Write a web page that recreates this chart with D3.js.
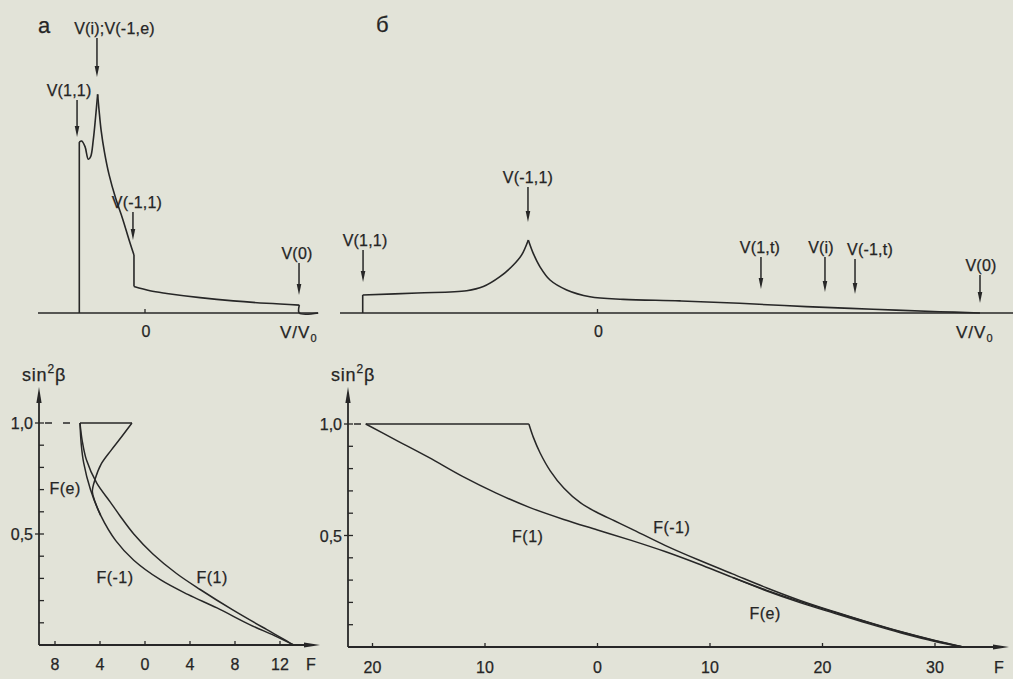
<!DOCTYPE html>
<html><head><meta charset="utf-8">
<script src="https://cdn.jsdelivr.net/npm/d3@7"></script>
<style>
html,body{margin:0;padding:0;background:#e2e3d8;}
svg{display:block;}
text{font-family:"Liberation Sans",Arial,sans-serif;fill:#252525;stroke:#252525;stroke-width:0.25px;}
</style></head><body>
<svg id="c" width="1013" height="679"></svg>
<script>
// ================= DATA =================
// Spectra (pieces of [V/V0, intensity]) — panel а and б
const spectrumA = [
  [[-5.84,0],[-5.84,0.777]],
  [[-5.84,0.777],[-5.63,0.782],[-5.33,0.756],[-5.04,0.699],[-4.83,0.711],[-4.6,0.786],[-4.39,0.892],[-4.21,0.994]],
  [[-4.21,0.994],[-4.08,0.92],[-3.9,0.83],[-3.6,0.73],[-3.2,0.63],[-2.6,0.52],[-2.0,0.43],[-1.4,0.33],[-0.98,0.264]],
  [[-0.98,0.264],[-0.98,0.12]],
  [[-0.98,0.12],[0.44,0.101],[1.93,0.089],[4.89,0.07],[7.85,0.055],[10.8,0.044],[13.72,0.036]],
  [[13.72,0.036],[13.72,0],[15.4,0]]
];
const spectrumB = [
  [[-20.87,0],[-20.87,0.082]],
  [[-20.87,0.082],[-16,0.091],[-11.63,0.101],[-10.15,0.12],[-8.67,0.165],[-7.48,0.218],[-6.74,0.264],[-6.15,0.332]],
  [[-6.15,0.332],[-5.71,0.271],[-5.11,0.21],[-4.22,0.15],[-2.74,0.105],[-0.67,0.074],[2.29,0.062],[7.33,0.055],[12.64,0.044],[18.56,0.029],[24.49,0.017],[30.42,0.006],[34.0,0]]
];
// Arrow annotations: [label, V/V0, tip intensity, tail intensity]
const peaksA = [
  ["V(1,1)", -6.04, 0.80, 0.968],
  ["V(i);V(-1,e)", -4.27, 1.073, 1.25],
  ["V(-1,1)", -1.07, 0.332, 0.459],
  ["V(0)", 13.69, 0.082, 0.227]
];
const peaksB = [
  ["V(1,1)", -20.84, 0.141, 0.286],
  ["V(-1,1)", -6.18, 0.414, 0.573],
  ["V(1,t)", 14.53, 0.109, 0.255],
  ["V(i)", 20.22, 0.095, 0.255],
  ["V(-1,t)", 22.89, 0.086, 0.245],
  ["V(0)", 34.0, 0.045, 0.173]
];
// F(sin²β) curves: [F, sin²β]
const fMinus1A = [[-5.78,1.0],[-5.66,0.9],[-5.45,0.82],[-4.85,0.7],[-3.95,0.585],[-2.6,0.47],[-1.0,0.382],[1.4,0.293],[3.8,0.228],[6.4,0.167],[9.3,0.092],[11.5,0.042],[13.2,0]];
const fPlus1A  = [[-5.78,1.0],[-5.58,0.92],[-5.2,0.833],[-4.3,0.73],[-3.1,0.645],[-2.2,0.58],[-1.0,0.5],[0.7,0.41],[2.8,0.322],[4.9,0.25],[7.8,0.158],[10.8,0.07],[12.2,0.03],[13.2,0]];
const fEA      = [[-1.16,1.0],[-2.2,0.93],[-3.0,0.878],[-3.9,0.815],[-4.45,0.745],[-4.68,0.69],[-4.4,0.64],[-3.95,0.585]];
const topA     = [[-5.78,1.0],[-1.16,1.0]];
const fPlus1B  = [[-20.6,1.0],[-18,0.93],[-15,0.85],[-12,0.765],[-9,0.69],[-6,0.625],[-3,0.572],[0,0.525],[3,0.478],[6,0.428],[9,0.372],[12,0.312],[15,0.255],[18,0.204],[21,0.157],[24,0.111],[27,0.067],[30,0.028],[32.5,0]];
const fMinus1B = [[-6.1,1.0],[-5.7,0.94],[-5.1,0.87],[-4.2,0.79],[-3.0,0.713],[-1.5,0.646],[0,0.602],[1.5,0.566],[3,0.53],[6,0.456],[9,0.39],[12,0.328],[15,0.266],[18,0.209],[21,0.159],[24,0.112],[27,0.068],[30,0.029],[32.5,0]];
const fEB      = [[12,0.312],[15,0.252],[18,0.199],[21,0.152],[24,0.106],[27,0.063],[30,0.025],[32.5,0]];
const topB     = [[-20.6,1.0],[-6.1,1.0]];
// tick values / labels
const fTicksA = [-8,-4,0,4,8,12];
const fTicksB = [-20,-10,0,10,20,30];
const sinMinor = [0.1,0.2,0.3,0.4,0.5,0.6,0.7,0.8,0.9,1.0];
const sinMajor = [0.5,1.0];
const sinLabels = ["0,5","1,0"];
const curveLabelsA = [["F(e)",-7.1,0.707],["F(-1)",-2.67,0.306],["F(1)",5.96,0.306]];
const curveLabelsB = [["F(1)",-6.2,0.5],["F(-1)",6.6,0.54],["F(e)",14.9,0.152]];

// ================= LAYOUT =================
const ink = "#272727";
const svg = d3.select("#c");
const xA = d3.scaleLinear().domain([0,4]).range([145,190]);
const xB = d3.scaleLinear().domain([0,10]).range([597.5,710]);
const yTop = d3.scaleLinear().domain([0,1]).range([313,93]);
const yLA = d3.scaleLinear().domain([0,1]).range([645,423]);
const yLB = d3.scaleLinear().domain([0,1]).range([647,424]);
const labelDxA = [-8, 17.5, 4, -2];
const labelDxB = [2, 0, -1, -4, 15, 1];

// ---- panel letters
svg.append("text").attr("x",38).attr("y",33).attr("font-size",22).text("а");
svg.append("text").attr("x",376).attr("y",32).attr("font-size",22).text("б");

function drawTop(x, spec, peaks, dxs, x0, x1, vvX){
  const g = svg.append("g");
  const y0 = yTop(0);
  g.append("line").attr("x1",x0).attr("x2",x1).attr("y1",y0).attr("y2",y0)
    .attr("stroke",ink).attr("stroke-width",1.7);
  g.append("line").attr("x1",x(0)).attr("x2",x(0)).attr("y1",y0).attr("y2",y0-4)
    .attr("stroke",ink).attr("stroke-width",1.3);
  g.append("text").attr("x",x(0)+1).attr("y",y0+24).attr("text-anchor","middle").attr("font-size",16).text("0");
  const vv = g.append("text").attr("x",vvX).attr("y",y0+25).attr("font-size",17).attr("letter-spacing",1);
  vv.append("tspan").text("V/V");
  vv.append("tspan").attr("font-size",11).attr("dy",4).text("0");
  const line = d3.line().x(d=>x(d[0])).y(d=>yTop(d[1])).curve(d3.curveCatmullRom.alpha(0.5));
  g.selectAll("path.sp").data(spec).join("path").attr("class","sp")
    .attr("d",line).attr("fill","none").attr("stroke",ink).attr("stroke-width",1.6)
    .attr("stroke-linejoin","round");
  peaks.forEach((p,i)=>{
    const px = x(p[1]), tip = yTop(p[2]), tail = yTop(p[3]);
    g.append("line").attr("x1",px).attr("x2",px).attr("y1",tail).attr("y2",tip-8)
      .attr("stroke",ink).attr("stroke-width",1.5);
    g.append("path").attr("d",`M${px},${tip}L${px-2.3},${tip-11}L${px+2.3},${tip-11}Z`).attr("fill",ink);
    g.append("text").attr("x",px+dxs[i]).attr("y",tail-4).attr("text-anchor","middle")
      .attr("font-size",16).attr("letter-spacing",0.2).text(p[0]);
  });
}
drawTop(xA, spectrumA, peaksA, labelDxA, 38, 318, 280);
drawTop(xB, spectrumB, peaksB, labelDxB, 340, 1013, 956);

function drawLower(x, y, axisX, xEnd, ticks, curves, topLine, labels, fX, tickLabY){
  const g = svg.append("g");
  const y0 = y(0), yTopAxis = 387;
  g.append("line").attr("x1",axisX).attr("x2",axisX).attr("y1",y0).attr("y2",yTopAxis+6)
    .attr("stroke",ink).attr("stroke-width",1.8);
  g.append("path").attr("d",`M${axisX},${yTopAxis}L${axisX-2.6},${yTopAxis+16}L${axisX+2.6},${yTopAxis+16}Z`).attr("fill",ink);
  g.append("line").attr("x1",axisX).attr("x2",xEnd-6).attr("y1",y0).attr("y2",y0)
    .attr("stroke",ink).attr("stroke-width",1.8);
  g.append("path").attr("d",`M${xEnd},${y0}L${xEnd-16},${y0-2.6}L${xEnd-16},${y0+2.6}Z`).attr("fill",ink);
  g.selectAll("line.ym").data(sinMinor).join("line").attr("class","ym")
    .attr("x1",d=>sinMajor.includes(d)?axisX-4:axisX).attr("x2",axisX+5)
    .attr("y1",d=>y(d)).attr("y2",d=>y(d)).attr("stroke",ink).attr("stroke-width",1.3);
  g.selectAll("text.yl").data(sinMajor).join("text").attr("class","yl")
    .attr("x",axisX-6).attr("y",d=>y(d)+6).attr("text-anchor","end").attr("font-size",16)
    .text((d,i)=>sinLabels[i]);
  g.selectAll("line.xt").data(ticks).join("line").attr("class","xt")
    .attr("x1",d=>x(d)).attr("x2",d=>x(d)).attr("y1",y0).attr("y2",y0-4)
    .attr("stroke",ink).attr("stroke-width",1.3);
  g.selectAll("text.xl").data(ticks).join("text").attr("class","xl")
    .attr("x",d=>x(d)).attr("y",tickLabY).attr("text-anchor","middle").attr("font-size",16)
    .text(d=>Math.abs(d));
  g.append("text").attr("x",fX).attr("y",tickLabY).attr("text-anchor","middle").attr("font-size",16).text("F");
  const t = g.append("text").attr("x",axisX-17).attr("y",381).attr("font-size",18).attr("letter-spacing",0.8);
  t.append("tspan").text("sin");
  t.append("tspan").attr("font-size",12).attr("dy",-8).text("2");
  t.append("tspan").attr("dy",8).text("β");
  g.append("line").attr("x1",axisX+6).attr("x2",x(topLine[0][0])).attr("y1",y(1)).attr("y2",y(1))
    .attr("stroke",ink).attr("stroke-width",1.5).attr("stroke-dasharray","7,11");
  g.append("path").attr("d",d3.line().x(d=>x(d[0])).y(d=>y(d[1]))(topLine))
    .attr("fill","none").attr("stroke",ink).attr("stroke-width",1.6);
  const line = d3.line().x(d=>x(d[0])).y(d=>y(d[1])).curve(d3.curveCatmullRom.alpha(0.5));
  g.selectAll("path.fc").data(curves).join("path").attr("class","fc")
    .attr("d",line).attr("fill","none").attr("stroke",ink).attr("stroke-width",1.5);
  g.selectAll("text.cl").data(labels).join("text").attr("class","cl")
    .attr("x",d=>x(d[1])).attr("y",d=>y(d[2])+6).attr("text-anchor","middle")
    .attr("font-size",16).attr("letter-spacing",0.5).text(d=>d[0]);
}
drawLower(xA, yLA, 39, 320, fTicksA, [fMinus1A, fPlus1A, fEA], topA, curveLabelsA, 311, 670);
drawLower(xB, yLB, 348, 1009, fTicksB, [fPlus1B, fMinus1B, fEB], topB, curveLabelsB, 999, 673);
</script>
</body></html>
